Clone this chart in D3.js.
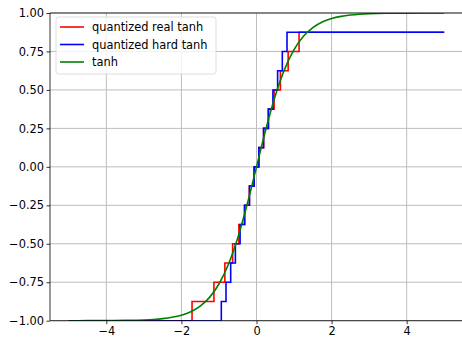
<!DOCTYPE html>
<html>
<head>
<meta charset="utf-8">
<script src="https://cdn.jsdelivr.net/npm/d3@7"></script>
<style>
  body { margin: 0; background: #fff; }
  svg { display: block; font-family: "DejaVu Sans", sans-serif; }
</style>
</head>
<body>
<div id="chart"></div>
<script>
// quantization levels (1/8 steps, -1 .. 0.875)
const levels = [-1, -0.875, -0.75, -0.625, -0.5, -0.375, -0.25, -0.125,
                0, 0.125, 0.25, 0.375, 0.5, 0.625, 0.75, 0.875];

// x where each step starts (one per level after the first)
const realTanhEdges = [-1.717, -1.134, -0.843, -0.636, -0.469, -0.323, -0.190, -0.063,
                       0.063, 0.190, 0.323, 0.469, 0.636, 0.843, 1.134];
const hardTanhEdges = [-0.9375, -0.8125, -0.6875, -0.5625, -0.4375, -0.3125, -0.1875, -0.0625,
                       0.0625, 0.1875, 0.3125, 0.4375, 0.5625, 0.6875, 0.8125];

const tanhX = [-5, -4.5, -4, -3.5, -3, -2.75, -2.5, -2.25, -2, -1.75, -1.5, -1.25, -1, -0.75, -0.5, -0.25,
               0, 0.25, 0.5, 0.75, 1, 1.25, 1.5, 1.75, 2, 2.25, 2.5, 2.75, 3, 3.5, 4, 4.5, 5];
const tanhY = [-0.9999, -0.9998, -0.9993, -0.9982, -0.9951, -0.9919, -0.9866, -0.9780, -0.9640, -0.9414,
               -0.9051, -0.8483, -0.7616, -0.6351, -0.4621, -0.2449,
               0, 0.2449, 0.4621, 0.6351, 0.7616, 0.8483, 0.9051, 0.9414, 0.9640, 0.9780, 0.9866,
               0.9919, 0.9951, 0.9982, 0.9993, 0.9998, 0.9999];

const xTicks = [-4, -2, 0, 2, 4];
const yTicks = [-1, -0.75, -0.5, -0.25, 0, 0.25, 0.5, 0.75, 1];
const xDomain = [-5.5, 5.5];
const xStart = -5, xEnd = 5;

const seriesNames = ["quantized real tanh", "quantized hard tanh", "tanh"];
const seriesColors = ["#ff0000", "#0000ff", "#008000"];

const W = 462, H = 338;
const margin = { top: 13, right: -1, bottom: 17.3, left: 50 };
const width = W - margin.left - margin.right;
const height = H - margin.top - margin.bottom;
const fontSize = "11.4px";

const svg = d3.select("#chart").append("svg")
    .attr("width", W)
    .attr("height", H);

const g = svg.append("g")
    .attr("transform", "translate(" + margin.left + "," + margin.top + ")");

const x = d3.scaleLinear().domain(xDomain).range([0, width]);
const y = d3.scaleLinear().domain([-1, 1]).range([height, 0]);

svg.append("defs").append("clipPath").attr("id", "plotclip")
  .append("rect").attr("width", width).attr("height", height);

// grid
g.append("g").selectAll("line").data(xTicks).enter().append("line")
    .attr("x1", d => x(d)).attr("x2", d => x(d))
    .attr("y1", 0).attr("y2", height)
    .attr("stroke", "#bdbdbd").attr("stroke-width", 1);
g.append("g").selectAll("line").data(yTicks).enter().append("line")
    .attr("x1", 0).attr("x2", width)
    .attr("y1", d => y(d)).attr("y2", d => y(d))
    .attr("stroke", "#bdbdbd").attr("stroke-width", 1);

function stepPoints(edges) {
  const pts = [[xStart, levels[0]]];
  edges.forEach((e, i) => pts.push([e, levels[i + 1]]));
  pts.push([xEnd, levels[levels.length - 1]]);
  return pts;
}

const stepLine = d3.line().x(d => x(d[0])).y(d => y(d[1])).curve(d3.curveStepAfter);
const smoothLine = d3.line().x(d => x(d[0])).y(d => y(d[1])).curve(d3.curveMonotoneX);

const plot = g.append("g").attr("clip-path", "url(#plotclip)");

plot.append("path").datum(stepPoints(realTanhEdges))
    .attr("d", stepLine).attr("fill", "none")
    .attr("stroke", seriesColors[0]).attr("stroke-width", 1.6);

plot.append("path").datum(stepPoints(hardTanhEdges))
    .attr("d", stepLine).attr("fill", "none")
    .attr("stroke", seriesColors[1]).attr("stroke-width", 1.6);

plot.append("path").datum(tanhX.map((v, i) => [v, tanhY[i]]))
    .attr("d", smoothLine).attr("fill", "none")
    .attr("stroke", seriesColors[2]).attr("stroke-width", 1.6);

// axes
const fmtY = d => d3.format(".2f")(d).replace("-", "\u2212");
const fmtX = d => String(d).replace("-", "\u2212");

const xAxis = g.append("g")
    .attr("transform", "translate(0," + height + ")")
    .call(d3.axisBottom(x).tickValues(xTicks).tickFormat(fmtX).tickSize(3.5).tickPadding(2.5));
const yAxis = g.append("g")
    .call(d3.axisLeft(y).tickValues(yTicks).tickFormat(fmtY).tickSize(3.5).tickPadding(2.5));

[xAxis, yAxis].forEach(a => {
  a.select(".domain").remove();
  a.selectAll("line").attr("stroke", "#000").attr("stroke-width", 0.8);
  a.selectAll("text").attr("fill", "#000")
      .style("font-size", fontSize).style("font-family", "DejaVu Sans, sans-serif");
});

// spines
g.append("line").attr("x1", 0).attr("x2", 0).attr("y1", 0).attr("y2", height)
    .attr("stroke", "#000").attr("stroke-width", 0.8);
g.append("line").attr("x1", 0).attr("x2", width).attr("y1", height).attr("y2", height)
    .attr("stroke", "#000").attr("stroke-width", 0.8);
g.append("line").attr("x1", 0).attr("x2", width).attr("y1", 0).attr("y2", 0)
    .attr("stroke", "#000").attr("stroke-width", 0.8);

// legend
const legend = svg.append("g").attr("transform", "translate(56,17)");
legend.append("rect")
    .attr("width", 160).attr("height", 57).attr("rx", 2.5)
    .attr("fill", "#fff").attr("fill-opacity", 0.8)
    .attr("stroke", "#d6d6d6").attr("stroke-width", 0.8);

const items = legend.selectAll(".item").data(seriesNames).enter().append("g")
    .attr("class", "item")
    .attr("transform", (d, i) => "translate(0," + (10 + i * 17.5) + ")");
items.append("line")
    .attr("x1", 4).attr("x2", 28).attr("y1", 0).attr("y2", 0)
    .attr("stroke", (d, i) => seriesColors[i]).attr("stroke-width", 1.6);
items.append("text")
    .attr("x", 36).attr("y", 0).attr("dy", "0.35em")
    .style("font-size", fontSize).attr("fill", "#000")
    .text(d => d);
</script>
</body>
</html>
